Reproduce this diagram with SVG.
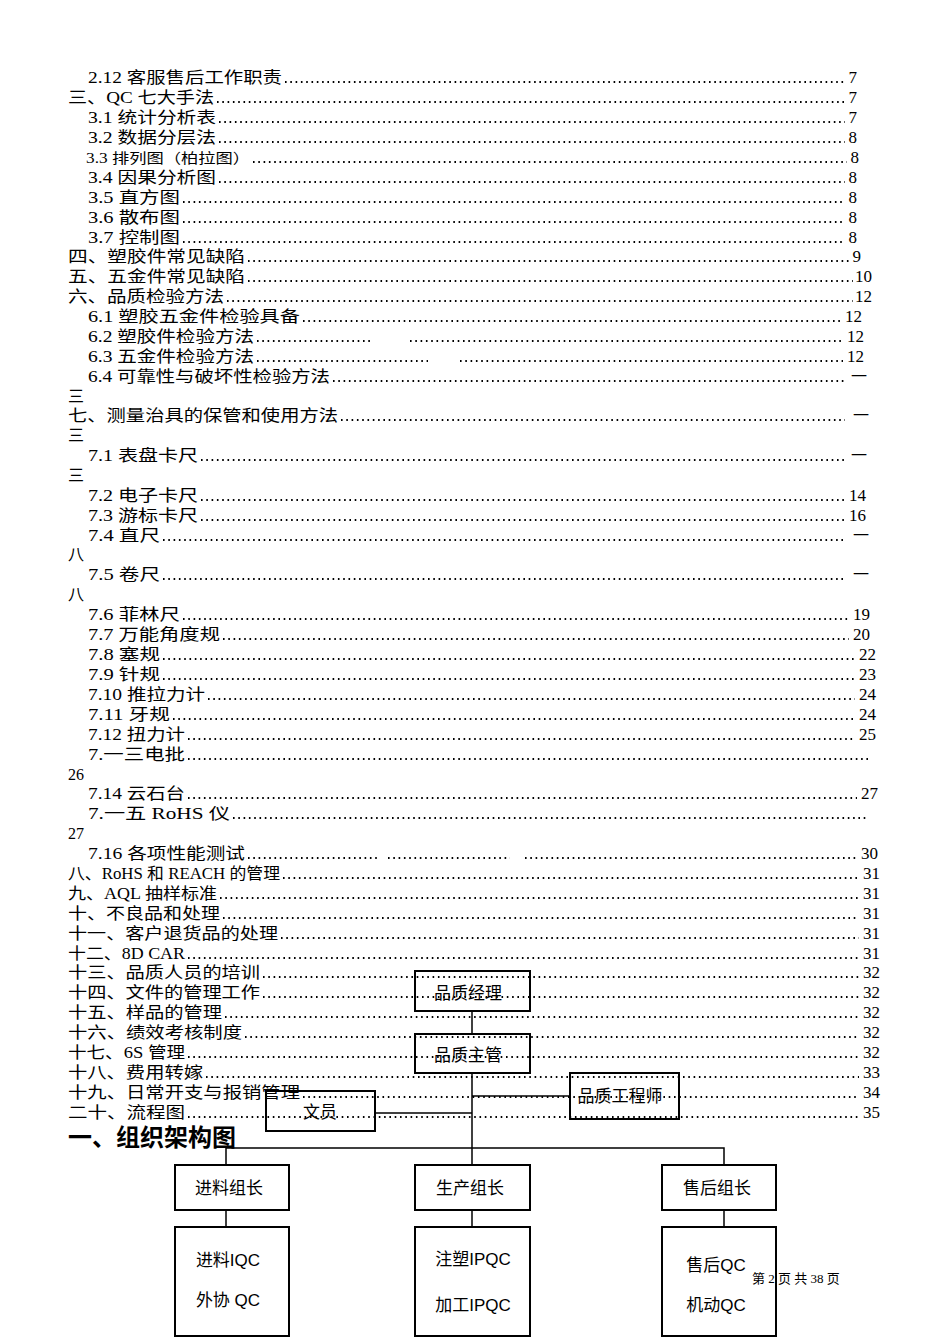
<svg xmlns="http://www.w3.org/2000/svg" width="950" height="1344" viewBox="0 0 950 1344">
<style>
.t{font-family:"Liberation Serif","Noto Sans CJK SC",serif;font-size:16px;fill:#000}
.n{font-family:"Liberation Serif","Noto Sans CJK SC",serif;font-size:17px;fill:#000;text-anchor:end}
.d{stroke:#000;stroke-width:2;stroke-dasharray:1.6 3.7;fill:none}
.b{fill:none;stroke:#000;stroke-width:2}
.l{stroke:#000;stroke-width:1.5;fill:none}
.bt{font-family:"Liberation Sans","Noto Sans CJK SC",sans-serif;font-size:17px;fill:#000;text-anchor:middle}
</style>
<rect width="950" height="1344" fill="#fff"/>
<g id="toc">
<text class="t" x="88" y="83" textLength="194" lengthAdjust="spacingAndGlyphs">2.12 客服售后工作职责</text><line class="d" x1="285" y1="82" x2="845" y2="82"/><text class="n" x="857" y="83">7</text>
<text class="t" x="68" y="103" textLength="146" lengthAdjust="spacingAndGlyphs">三、QC 七大手法</text><line class="d" x1="217" y1="102" x2="845" y2="102"/><text class="n" x="857" y="103">7</text>
<text class="t" x="88" y="123" textLength="128" lengthAdjust="spacingAndGlyphs">3.1 统计分析表</text><line class="d" x1="219" y1="122" x2="845" y2="122"/><text class="n" x="857" y="123">7</text>
<text class="t" x="88" y="143" textLength="128" lengthAdjust="spacingAndGlyphs">3.2 数据分层法</text><line class="d" x1="219" y1="142" x2="845" y2="142"/><text class="n" x="857" y="143">8</text>
<text class="t" x="86" y="163" textLength="164" lengthAdjust="spacingAndGlyphs" style="font-size:14px">3.3 排列图（柏拉图）</text><line class="d" x1="253" y1="162" x2="847" y2="162"/><text class="n" x="859" y="163">8</text>
<text class="t" x="88" y="183" textLength="128" lengthAdjust="spacingAndGlyphs">3.4 因果分析图</text><line class="d" x1="219" y1="182" x2="845" y2="182"/><text class="n" x="857" y="183">8</text>
<text class="t" x="88" y="203" textLength="92" lengthAdjust="spacingAndGlyphs">3.5 直方图</text><line class="d" x1="183" y1="202" x2="845" y2="202"/><text class="n" x="857" y="203">8</text>
<text class="t" x="88" y="223" textLength="92" lengthAdjust="spacingAndGlyphs">3.6 散布图</text><line class="d" x1="183" y1="222" x2="845" y2="222"/><text class="n" x="857" y="223">8</text>
<text class="t" x="88" y="243" textLength="92" lengthAdjust="spacingAndGlyphs">3.7 控制图</text><line class="d" x1="183" y1="242" x2="845" y2="242"/><text class="n" x="857" y="243">8</text>
<text class="t" x="68" y="262" textLength="177" lengthAdjust="spacingAndGlyphs">四、塑胶件常见缺陷</text><line class="d" x1="248" y1="261" x2="849" y2="261"/><text class="n" x="861" y="262">9</text>
<text class="t" x="68" y="282" textLength="177" lengthAdjust="spacingAndGlyphs">五、五金件常见缺陷</text><line class="d" x1="248" y1="281" x2="853" y2="281"/><text class="n" x="872" y="282">10</text>
<text class="t" x="68" y="302" textLength="156" lengthAdjust="spacingAndGlyphs">六、品质检验方法</text><line class="d" x1="227" y1="301" x2="853" y2="301"/><text class="n" x="872" y="302">12</text>
<text class="t" x="88" y="322" textLength="212" lengthAdjust="spacingAndGlyphs">6.1 塑胶五金件检验具备</text><line class="d" x1="303" y1="321" x2="843" y2="321"/><text class="n" x="862" y="322">12</text>
<text class="t" x="88" y="342" textLength="166" lengthAdjust="spacingAndGlyphs">6.2 塑胶件检验方法</text><line class="d" x1="257" y1="341" x2="370" y2="341"/><line class="d" x1="410" y1="341" x2="843" y2="341"/><text class="n" x="864" y="342">12</text>
<text class="t" x="88" y="362" textLength="166" lengthAdjust="spacingAndGlyphs">6.3 五金件检验方法</text><line class="d" x1="257" y1="361" x2="428" y2="361"/><line class="d" x1="460" y1="361" x2="843" y2="361"/><text class="n" x="864" y="362">12</text>
<text class="t" x="88" y="382" textLength="242" lengthAdjust="spacingAndGlyphs">6.4 可靠性与破坏性检验方法</text><line class="d" x1="333" y1="381" x2="845" y2="381"/><text class="t" x="851" y="382">一</text>
<text class="t" x="68" y="402">三</text>
<text class="t" x="68" y="421" textLength="270" lengthAdjust="spacingAndGlyphs">七、测量治具的保管和使用方法</text><line class="d" x1="341" y1="420" x2="845" y2="420"/><text class="t" x="853" y="421">一</text>
<text class="t" x="68" y="441">三</text>
<text class="t" x="88" y="461" textLength="110" lengthAdjust="spacingAndGlyphs">7.1 表盘卡尺</text><line class="d" x1="201" y1="460" x2="845" y2="460"/><text class="t" x="851" y="461">一</text>
<text class="t" x="68" y="481">三</text>
<text class="t" x="88" y="501" textLength="110" lengthAdjust="spacingAndGlyphs">7.2 电子卡尺</text><line class="d" x1="201" y1="500" x2="845" y2="500"/><text class="n" x="866" y="501">14</text>
<text class="t" x="88" y="521" textLength="110" lengthAdjust="spacingAndGlyphs">7.3 游标卡尺</text><line class="d" x1="201" y1="520" x2="845" y2="520"/><text class="n" x="866" y="521">16</text>
<text class="t" x="88" y="541" textLength="72" lengthAdjust="spacingAndGlyphs">7.4 直尺</text><line class="d" x1="163" y1="540" x2="845" y2="540"/><text class="t" x="853" y="541">一</text>
<text class="t" x="68" y="560">八</text>
<text class="t" x="88" y="580" textLength="72" lengthAdjust="spacingAndGlyphs">7.5 卷尺</text><line class="d" x1="163" y1="579" x2="845" y2="579"/><text class="t" x="853" y="580">一</text>
<text class="t" x="68" y="600">八</text>
<text class="t" x="88" y="620" textLength="92" lengthAdjust="spacingAndGlyphs">7.6 菲林尺</text><line class="d" x1="183" y1="619" x2="849" y2="619"/><text class="n" x="870" y="620">19</text>
<text class="t" x="88" y="640" textLength="132" lengthAdjust="spacingAndGlyphs">7.7 万能角度规</text><line class="d" x1="223" y1="639" x2="849" y2="639"/><text class="n" x="870" y="640">20</text>
<text class="t" x="88" y="660" textLength="72" lengthAdjust="spacingAndGlyphs">7.8 塞规</text><line class="d" x1="163" y1="659" x2="855" y2="659"/><text class="n" x="876" y="660">22</text>
<text class="t" x="88" y="680" textLength="72" lengthAdjust="spacingAndGlyphs">7.9 针规</text><line class="d" x1="163" y1="679" x2="855" y2="679"/><text class="n" x="876" y="680">23</text>
<text class="t" x="88" y="700" textLength="117" lengthAdjust="spacingAndGlyphs">7.10 推拉力计</text><line class="d" x1="208" y1="699" x2="855" y2="699"/><text class="n" x="876" y="700">24</text>
<text class="t" x="88" y="720" textLength="82" lengthAdjust="spacingAndGlyphs">7.11 牙规</text><line class="d" x1="173" y1="719" x2="855" y2="719"/><text class="n" x="876" y="720">24</text>
<text class="t" x="88" y="740" textLength="97" lengthAdjust="spacingAndGlyphs">7.12 扭力计</text><line class="d" x1="188" y1="739" x2="855" y2="739"/><text class="n" x="876" y="740">25</text>
<text class="t" x="88" y="760" textLength="97" lengthAdjust="spacingAndGlyphs">7.一三电批</text><line class="d" x1="188" y1="759" x2="868" y2="759"/>
<text class="t" x="68" y="780">26</text>
<text class="t" x="88" y="799" textLength="97" lengthAdjust="spacingAndGlyphs">7.14 云石台</text><line class="d" x1="188" y1="798" x2="857" y2="798"/><text class="n" x="878" y="799">27</text>
<text class="t" x="88" y="819" textLength="142" lengthAdjust="spacingAndGlyphs">7.一五 RoHS 仪</text><line class="d" x1="233" y1="818" x2="868" y2="818"/>
<text class="t" x="68" y="839">27</text>
<text class="t" x="88" y="859" textLength="157" lengthAdjust="spacingAndGlyphs">7.16 各项性能测试</text><line class="d" x1="248" y1="858" x2="378" y2="858"/><line class="d" x1="388" y1="858" x2="510" y2="858"/><line class="d" x1="525" y1="858" x2="857" y2="858"/><text class="n" x="878" y="859">30</text>
<text class="t" x="68" y="879" textLength="212" lengthAdjust="spacingAndGlyphs">八、RoHS 和 REACH 的管理</text><line class="d" x1="283" y1="878" x2="859" y2="878"/><text class="n" x="880" y="879">31</text>
<text class="t" x="68" y="899" textLength="149" lengthAdjust="spacingAndGlyphs">九、AQL 抽样标准</text><line class="d" x1="220" y1="898" x2="859" y2="898"/><text class="n" x="880" y="899">31</text>
<text class="t" x="68" y="919" textLength="152" lengthAdjust="spacingAndGlyphs">十、不良品和处理</text><line class="d" x1="223" y1="918" x2="859" y2="918"/><text class="n" x="880" y="919">31</text>
<text class="t" x="68" y="939" textLength="210" lengthAdjust="spacingAndGlyphs">十一、客户退货品的处理</text><line class="d" x1="281" y1="938" x2="859" y2="938"/><text class="n" x="880" y="939">31</text>
<text class="t" x="68" y="959" textLength="117" lengthAdjust="spacingAndGlyphs">十二、8D CAR</text><line class="d" x1="188" y1="958" x2="859" y2="958"/><text class="n" x="880" y="959">31</text>
<text class="t" x="68" y="978" textLength="192" lengthAdjust="spacingAndGlyphs">十三、品质人员的培训</text><line class="d" x1="263" y1="977" x2="859" y2="977"/><text class="n" x="880" y="978">32</text>
<text class="t" x="68" y="998" textLength="192" lengthAdjust="spacingAndGlyphs">十四、文件的管理工作</text><line class="d" x1="263" y1="997" x2="859" y2="997"/><text class="n" x="880" y="998">32</text>
<text class="t" x="68" y="1018" textLength="154" lengthAdjust="spacingAndGlyphs">十五、样品的管理</text><line class="d" x1="225" y1="1017" x2="859" y2="1017"/><text class="n" x="880" y="1018">32</text>
<text class="t" x="68" y="1038" textLength="174" lengthAdjust="spacingAndGlyphs">十六、绩效考核制度</text><line class="d" x1="245" y1="1037" x2="859" y2="1037"/><text class="n" x="880" y="1038">32</text>
<text class="t" x="68" y="1058" textLength="117" lengthAdjust="spacingAndGlyphs">十七、6S 管理</text><line class="d" x1="188" y1="1057" x2="859" y2="1057"/><text class="n" x="880" y="1058">32</text>
<text class="t" x="68" y="1078" textLength="135" lengthAdjust="spacingAndGlyphs">十八、费用转嫁</text><line class="d" x1="206" y1="1077" x2="859" y2="1077"/><text class="n" x="880" y="1078">33</text>
<text class="t" x="68" y="1098" textLength="232" lengthAdjust="spacingAndGlyphs">十九、日常开支与报销管理</text><line class="d" x1="303" y1="1097" x2="859" y2="1097"/><text class="n" x="880" y="1098">34</text>
<text class="t" x="68" y="1118" textLength="117" lengthAdjust="spacingAndGlyphs">二十、流程图</text><line class="d" x1="188" y1="1117" x2="859" y2="1117"/><text class="n" x="880" y="1118">35</text>
</g>
<text id="title" x="68" y="1146" style="font-family:'Liberation Sans','Noto Sans CJK SC',sans-serif;font-size:24px;font-weight:bold">一、组织架构图</text>
<g id="connectors">
<line class="l" x1="472" y1="1011" x2="472" y2="1034"/>
<line class="l" x1="472" y1="1073" x2="472" y2="1165"/>
<line class="l" x1="472" y1="1096" x2="570" y2="1096"/>
<line class="l" x1="375" y1="1113" x2="472" y2="1113"/>
<polyline class="l" points="226,1165 226,1148 724,1148 724,1165"/>
<line class="l" x1="226" y1="1210" x2="226" y2="1227"/>
<line class="l" x1="472" y1="1210" x2="472" y2="1227"/>
<line class="l" x1="724" y1="1210" x2="724" y2="1227"/>
</g>
<g id="n1"><rect class="b" x="415" y="971" width="115" height="40"/><text class="bt" x="468" y="999">品质经理</text></g>
<g id="n2"><rect class="b" x="415" y="1034" width="115" height="39"/><text class="bt" x="468" y="1061">品质主管</text></g>
<g id="n3"><rect class="b" x="570" y="1073" width="109" height="46"/><text class="bt" x="620" y="1102">品质工程师</text></g>
<g id="n4"><rect class="b" x="266" y="1091" width="109" height="40"/><text class="bt" x="320" y="1118">文员</text></g>
<g id="n5"><rect class="b" x="175" y="1165" width="114" height="45"/><text class="bt" x="229" y="1194">进料组长</text></g>
<g id="n6"><rect class="b" x="415" y="1165" width="115" height="45"/><text class="bt" x="470" y="1194">生产组长</text></g>
<g id="n7"><rect class="b" x="662" y="1165" width="114" height="45"/><text class="bt" x="717" y="1194">售后组长</text></g>
<g id="n8"><rect class="b" x="175" y="1227" width="114" height="109"/><text class="bt" x="228" y="1266">进料IQC</text><text class="bt" x="228" y="1306">外协 QC</text></g>
<g id="n9"><rect class="b" x="415" y="1227" width="115" height="109"/><text class="bt" x="473" y="1265">注塑IPQC</text><text class="bt" x="473" y="1311">加工IPQC</text></g>
<g id="n10"><rect class="b" x="662" y="1227" width="114" height="109"/><text class="bt" x="716" y="1271">售后QC</text><text class="bt" x="716" y="1311">机动QC</text></g>
<text id="footer" x="752" y="1283" style="font-family:'Liberation Serif','Noto Sans CJK SC',serif;font-size:13px">第 2 页 共 38 页</text>
</svg>
